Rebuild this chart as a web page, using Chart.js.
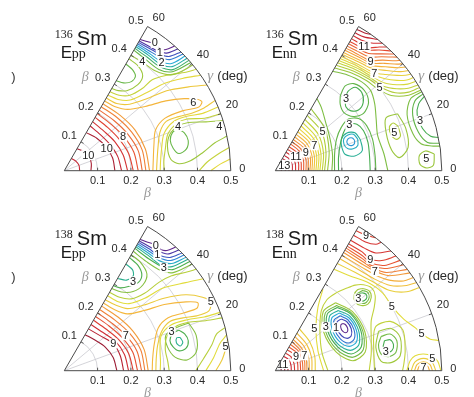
<!DOCTYPE html>
<html>
<head>
<meta charset="utf-8">
<script src="https://cdn.jsdelivr.net/npm/chart.js@4.4.1/dist/chart.umd.min.js"></script>
<style>
  html, body { margin: 0; padding: 0; background: #fff; }
  #wrap { position: relative; width: 474px; height: 397px; overflow: hidden; }
  #wrap canvas { position: absolute; }
</style>
</head>
<body>
<div id="wrap"></div>
<script>
// axis ticks and guide lines of the (beta, gamma) sector
const betaTicks = [0.1, 0.2, 0.3, 0.4, 0.5];
const gammaTicks = [0, 20, 40, 60];
const betaGrid = [0.1, 0.2, 0.3, 0.4];
const gammaGrid = [20, 40];

// contour lines: [energy (MeV), [beta, gamma(deg), beta, gamma, ...]]
const ppSm136Lines = [
  [0, [0.455,60, 0.462,57, 0.468,54.5, 0.465,52, 0.475,50, 0.5,48.5]],
  [0.5, [0.45,60, 0.452,56, 0.456,52, 0.468,49, 0.5,47]],
  [1, [0.445,60, 0.447,55.5, 0.452,51, 0.465,47.5, 0.5,45.5]],
  [1.5, [0.44,60, 0.441,55, 0.446,50, 0.46,46.5, 0.5,44.5]],
  [2, [0.435,60, 0.435,54, 0.438,48.5, 0.455,45, 0.5,43.5]],
  [2.5, [0.43,60, 0.429,54, 0.431,48, 0.45,44, 0.5,42.5]],
  [3, [0.424,60, 0.422,54, 0.424,47.5, 0.445,43, 0.5,41.5]],
  [3.5, [0.418,60, 0.414,54, 0.416,47, 0.44,42.5, 0.5,40.5]],
  [3.5, [0.37,60, 0.366,56, 0.355,53, 0.335,53, 0.318,56, 0.312,60]],
  [4, [0.40,60, 0.402,54.4, 0.405,48, 0.43,42, 0.47,40, 0.5,39.5]],
  [4, [0.388,60, 0.385,55, 0.37,50.5, 0.34,49.5, 0.305,52, 0.29,56, 0.285,60]],
  [4.5, [0.274,60, 0.28,54, 0.30,49, 0.34,46.5, 0.38,46, 0.42,43, 0.47,39, 0.5,37.5]],
  [5, [0.262,60, 0.268,53, 0.29,47, 0.34,43.5, 0.40,41, 0.45,38, 0.5,35]],
  [5.5, [0.252,60, 0.256,52, 0.28,45.5, 0.33,41, 0.39,38, 0.45,34, 0.5,31]],
  [6, [0.242,60, 0.245,52, 0.265,44, 0.31,38.5, 0.37,34.5, 0.42,31, 0.455,28, 0.462,26.5, 0.445,25.3, 0.40,26.8, 0.34,27.5, 0.30,24, 0.28,16, 0.27,8, 0.266,0]],
  [5.5, [0.5,25, 0.46,24.2, 0.42,24.3, 0.38,25.3, 0.34,25.8, 0.31,22, 0.29,14, 0.28,6, 0.277,0]],
  [5, [0.5,22.5, 0.45,22.5, 0.40,24, 0.36,24.2, 0.32,20.5, 0.30,13, 0.29,5, 0.288,0]],
  [4.5, [0.5,20, 0.45,20.5, 0.40,22.8, 0.367,22.8, 0.33,19.5, 0.31,12, 0.30,5, 0.30,0]],
  [4, [0.5,17.5, 0.45,19, 0.40,21.2, 0.367,21.4, 0.335,19, 0.318,13, 0.322,6, 0.345,3.5, 0.38,4.5, 0.42,7.5, 0.46,10.5, 0.5,12]],
  [3.5, [0.364,20, 0.378,17.5, 0.383,13.7, 0.372,10, 0.348,8.5, 0.334,11.5, 0.331,16, 0.345,19.5, 0.364,20]],
  [4.5, [0.405,0, 0.43,3.5, 0.47,6.5, 0.5,8]],
  [5, [0.44,0, 0.47,2.5, 0.5,4]],
  [6.5, [0.232,60, 0.236,45, 0.245,30, 0.252,15, 0.256,0]],
  [7, [0.222,60, 0.225,45, 0.233,30, 0.242,15, 0.245,0]],
  [7.5, [0.21,60, 0.212,45, 0.22,30, 0.23,15, 0.234,0]],
  [8, [0.198,60, 0.198,45, 0.206,30, 0.216,15, 0.222,0]],
  [8.5, [0.185,60, 0.184,45, 0.19,30, 0.2,15, 0.207,0]],
  [9, [0.17,60, 0.168,45, 0.175,30, 0.183,15, 0.19,0]],
  [9.5, [0.155,60, 0.153,45, 0.158,30, 0.166,15, 0.172,0]],
  [10, [0.132,60, 0.138,45, 0.144,30, 0.15,15, 0.152,0]],
  [10, [0.076,60, 0.082,45, 0.086,30, 0.084,15, 0.08,0]],
  [9.5, [0.042,60, 0.045,40, 0.047,20, 0.046,0]]
];
const ppSm136Labels = [
  ['0',0.47,54.7], ['1',0.456,51], ['2',0.436,48], ['4',0.402,54.4], ['6',0.439,28],
  ['4',0.367,21.4], ['4',0.484,16], ['8',0.204,30], ['10',0.144,28], ['10',0.086,33]
];

const nnSm136Lines = [
  [13.5, [0.018,0, 0.02,20, 0.021,40, 0.02,60]],
  [13, [0.03,0, 0.032,20, 0.033,40, 0.031,60]],
  [12.5, [0.041,0, 0.043,20, 0.044,40, 0.042,60]],
  [12, [0.051,0, 0.054,20, 0.055,40, 0.053,60]],
  [11.5, [0.061,0, 0.064,20, 0.066,40, 0.064,60]],
  [11, [0.07,0, 0.074,20, 0.076,40, 0.074,60]],
  [10.5, [0.078,0, 0.082,20, 0.085,40, 0.083,60]],
  [10, [0.085,0, 0.09,20, 0.093,40, 0.092,60]],
  [9.5, [0.092,0, 0.098,20, 0.101,40, 0.10,60]],
  [9, [0.098,0, 0.105,20, 0.109,40, 0.108,60]],
  [8.5, [0.104,0, 0.112,20, 0.117,40, 0.117,60]],
  [8, [0.11,0, 0.118,20, 0.125,40, 0.126,60]],
  [7.5, [0.116,0, 0.125,20, 0.133,40, 0.135,60]],
  [7, [0.122,0, 0.132,20, 0.141,40, 0.145,60]],
  [6.5, [0.128,0, 0.139,20, 0.15,40, 0.155,60]],
  [6, [0.134,0, 0.146,20, 0.159,40, 0.166,60]],
  [5.5, [0.141,0, 0.154,20, 0.169,40, 0.178,60]],
  [5, [0.148,0, 0.162,20, 0.182,40, 0.192,60]],
  [4.5, [0.157,0, 0.172,20, 0.195,40, 0.215,60]],
  [4, [0.17,0, 0.178,15, 0.19,30, 0.21,44, 0.235,54, 0.25,60]],
  [3.5, [0.178,0, 0.185,15.7, 0.207,27.3, 0.237,33.3, 0.269,35.2, 0.295,32.1, 0.306,26.1, 0.307,18, 0.303,8.5, 0.302,0]],
  [3, [0.19,0, 0.194,11.9, 0.211,22.3, 0.235,29.3, 0.262,32.2, 0.282,29.7, 0.291,24.4, 0.291,17, 0.286,8, 0.285,0]],
  [2.5, [0.272,20, 0.265,25.5, 0.243,27.8, 0.22,25.5, 0.212,20, 0.216,13, 0.243,10.5, 0.268,13, 0.272,20]],
  [2, [0.265,21, 0.259,25, 0.243,26.2, 0.227,25, 0.221,21, 0.227,17, 0.243,15.8, 0.259,17, 0.265,21]],
  [1.5, [0.255,21, 0.2515,23, 0.243,23.8, 0.2345,23, 0.231,21, 0.2345,19, 0.243,18.2, 0.2515,19, 0.255,21]],
  [3, [0.301,45.7, 0.323,47.5, 0.347,46.2, 0.35,42.1, 0.334,37.8, 0.309,36.1, 0.29,38.3, 0.286,42.2, 0.301,45.7]],
  [3.5, [0.298,49.1, 0.33,50.5, 0.352,48, 0.36,42, 0.347,36.2, 0.316,33, 0.286,34.7, 0.27,40.5, 0.279,45.7, 0.298,49.1]],
  [4, [0.345,60, 0.36,53, 0.372,46, 0.374,40, 0.36,34, 0.34,27, 0.325,19, 0.33,9, 0.338,0]],
  [4.5, [0.356,60, 0.372,52, 0.385,44.5, 0.394,38.5, 0.415,33, 0.46,29.5, 0.5,29]],
  [5, [0.366,60, 0.38,52, 0.394,44, 0.405,38, 0.43,33, 0.465,30.5, 0.5,30]],
  [5.5, [0.374,60, 0.387,52, 0.40,44, 0.412,38, 0.44,34, 0.47,31.8, 0.5,31]],
  [6, [0.382,60, 0.393,52, 0.405,44.5, 0.42,39, 0.447,35.3, 0.475,33.2, 0.5,32.5]],
  [6.5, [0.389,60, 0.399,52, 0.41,45, 0.43,40, 0.455,36.6, 0.48,34.6, 0.5,34]],
  [7, [0.396,60, 0.405,52, 0.417,45, 0.44,41, 0.465,38, 0.485,36.2, 0.5,35.5]],
  [7.5, [0.403,60, 0.411,53, 0.423,46.5, 0.45,42, 0.48,38.3, 0.5,37]],
  [8, [0.41,60, 0.417,53, 0.428,47.5, 0.455,43.3, 0.483,39.8, 0.5,38.5]],
  [8.5, [0.418,60, 0.423,54, 0.432,48.5, 0.46,44.5, 0.486,41.2, 0.5,40]],
  [9, [0.425,60, 0.429,54, 0.436,49.5, 0.463,45.8, 0.488,42.6, 0.5,41.5]],
  [9.5, [0.432,60, 0.436,55, 0.443,50.5, 0.468,47, 0.5,43]],
  [10, [0.44,60, 0.443,55.5, 0.45,51.5, 0.472,48, 0.5,44.5]],
  [10.5, [0.448,60, 0.45,56, 0.457,52.5, 0.478,49.3, 0.5,46]],
  [11, [0.458,60, 0.459,55, 0.465,52.5, 0.485,50, 0.5,48]],
  [11.5, [0.468,60, 0.47,56.5, 0.48,53, 0.5,50]],
  [12, [0.478,60, 0.482,56.5, 0.5,52]],
  [12.5, [0.49,60, 0.493,57, 0.5,55]],
  [3, [0.5,26.5, 0.475,25, 0.458,21.5, 0.46,16, 0.478,12.5, 0.5,11.5]],
  [3.5, [0.5,27.5, 0.468,26.5, 0.445,22, 0.445,15, 0.465,10.5, 0.5,9.5]],
  [4, [0.5,28.3, 0.46,28, 0.43,23, 0.428,15, 0.445,10.5, 0.475,9, 0.5,8.5]],
  [4.5, [0.405,25, 0.412,18, 0.405,10, 0.375,6, 0.355,10, 0.352,19, 0.368,25.5, 0.405,25]],
  [5, [0.392,20, 0.39,15.5, 0.376,14.5, 0.364,17, 0.367,21, 0.382,22, 0.392,20]],
  [4.5, [0.48,6, 0.475,2, 0.455,1, 0.435,2.5, 0.435,6, 0.455,7.5, 0.48,6]],
  [5, [0.465,4.5, 0.46,3, 0.45,3, 0.446,4.8, 0.456,5.8, 0.465,4.5]]
];
const nnSm136Labels = [
  ['11',0.459,54.5], ['9',0.436,49], ['7',0.417,44.5], ['5',0.40,38.5], ['3',0.303,45.5],
  ['3',0.262,32], ['5',0.184,39.5], ['7',0.14,33], ['9',0.107,31], ['11',0.075,34],
  ['13',0.032,32], ['5',0.376,18], ['3',0.46,19], ['5',0.455,4.5]
];

const ppSm138Lines = [
  [0, [0.455,60, 0.46,57, 0.467,54, 0.465,51.5, 0.475,49.5, 0.5,48]],
  [0.5, [0.45,60, 0.452,55.5, 0.456,52, 0.468,48.5, 0.5,46.5]],
  [1, [0.445,60, 0.446,55, 0.447,51.3, 0.465,47, 0.5,45]],
  [1.5, [0.44,60, 0.44,54.5, 0.443,50, 0.46,46, 0.5,44]],
  [2, [0.435,60, 0.434,54, 0.437,49, 0.455,45, 0.5,43]],
  [2.5, [0.43,60, 0.428,53.5, 0.43,47.5, 0.45,44, 0.5,42]],
  [3, [0.424,60, 0.421,53, 0.43,46, 0.445,43, 0.5,41]],
  [3.5, [0.414,60, 0.41,53, 0.418,46, 0.44,42, 0.5,39.8]],
  [2.5, [0.37,60, 0.366,56, 0.352,54, 0.33,55.5, 0.32,60]],
  [3, [0.392,60, 0.386,55, 0.37,51, 0.345,50, 0.32,52.4, 0.30,56, 0.295,60]],
  [3.5, [0.402,60, 0.398,55, 0.382,49.5, 0.35,47.5, 0.315,49, 0.292,54, 0.285,60]],
  [4, [0.272,60, 0.276,53, 0.295,47, 0.335,44, 0.39,43, 0.43,41.5, 0.47,39, 0.5,37.5]],
  [4.5, [0.26,60, 0.263,52, 0.28,46, 0.325,42, 0.385,40, 0.45,36, 0.5,33.5]],
  [5, [0.246,60, 0.25,52, 0.266,44.5, 0.31,39.5, 0.37,36, 0.43,32, 0.47,28, 0.486,25.2, 0.47,22.5, 0.43,22.5, 0.39,24, 0.35,25, 0.315,22, 0.29,15, 0.278,7, 0.275,0]],
  [5.5, [0.235,60, 0.238,50, 0.255,42, 0.30,37, 0.36,33.5, 0.42,29.5, 0.45,27, 0.44,25.2, 0.40,25.8, 0.35,27, 0.31,24.5, 0.283,17, 0.268,8, 0.264,0]],
  [4.5, [0.5,20.5, 0.45,21, 0.40,22.5, 0.35,23.2, 0.31,20, 0.295,13, 0.29,5, 0.288,0]],
  [4, [0.5,18.5, 0.45,19.5, 0.40,21.3, 0.36,21.6, 0.325,18.5, 0.31,12, 0.312,5, 0.315,0]],
  [3.5, [0.40,21, 0.41,15, 0.40,8, 0.37,5, 0.335,7, 0.318,13, 0.322,19, 0.35,20.8, 0.40,21]],
  [3, [0.365,19.5, 0.378,17, 0.383,13.6, 0.372,10.5, 0.35,9.8, 0.334,12.5, 0.33,16, 0.345,19, 0.365,19.5]],
  [2.5, [0.362,16, 0.366,13.5, 0.356,12, 0.347,14, 0.352,16.3, 0.362,16]],
  [4, [0.395,0, 0.42,5, 0.45,10, 0.47,13.5, 0.5,15]],
  [4.5, [0.425,0, 0.45,5, 0.475,10, 0.5,12.5]],
  [5, [0.455,0, 0.475,4, 0.49,8, 0.5,11]],
  [6, [0.252,0, 0.248,15, 0.238,30, 0.228,45, 0.224,60]],
  [6.5, [0.242,0, 0.238,15, 0.226,30, 0.215,45, 0.212,60]],
  [7, [0.232,0, 0.226,15, 0.213,30, 0.202,45, 0.2,60]],
  [7.5, [0.22,0, 0.213,15, 0.2,30, 0.19,45, 0.188,60]],
  [8, [0.207,0, 0.2,15, 0.188,30, 0.177,45, 0.175,60]],
  [8.5, [0.193,0, 0.187,15, 0.177,30, 0.163,45, 0.16,60]],
  [9, [0.178,0, 0.174,15, 0.168,29, 0.15,45, 0.145,60]],
  [9.5, [0.158,0, 0.152,15, 0.142,30, 0.13,45, 0.125,60]]
];
const ppSm138Labels = [
  ['0',0.467,53.9], ['1',0.447,51.3], ['3',0.43,46], ['3',0.339,52.4], ['5',0.486,25.2],
  ['3',0.343,20], ['7',0.213,30], ['9',0.168,29], ['5',0.49,8.5]
];

const nnSm138Lines = [
  [11.5, [0.018,0, 0.018,20, 0.018,40, 0.018,60]],
  [11, [0.028,0, 0.03,20, 0.03,40, 0.028,60]],
  [10.5, [0.038,0, 0.04,20, 0.041,40, 0.039,60]],
  [10, [0.048,0, 0.05,20, 0.052,40, 0.05,60]],
  [9.5, [0.058,0, 0.06,20, 0.063,40, 0.061,60]],
  [9, [0.068,0, 0.071,20, 0.075,40, 0.072,60]],
  [8.5, [0.076,0, 0.079,20, 0.084,40, 0.082,60]],
  [8, [0.083,0, 0.086,20, 0.091,40, 0.091,60]],
  [7.5, [0.089,0, 0.093,20, 0.097,40, 0.10,60]],
  [7, [0.095,0, 0.099,20, 0.104,40, 0.108,60]],
  [6.5, [0.102,0, 0.107,20, 0.113,40, 0.118,60]],
  [6, [0.11,0, 0.116,20, 0.123,40, 0.13,60]],
  [5.5, [0.12,0, 0.126,20, 0.135,40, 0.145,60]],
  [9, [0.485,60, 0.49,56.2, 0.5,53]],
  [9.5, [0.47,60, 0.472,55, 0.485,51.5, 0.5,50.5]],
  [9.5, [0.452,60, 0.455,54, 0.465,49.5, 0.5,46]],
  [9, [0.44,60, 0.442,54, 0.44,49.6, 0.46,46, 0.5,43.5]],
  [8.5, [0.432,60, 0.433,53, 0.433,48.5, 0.455,44, 0.5,41.5]],
  [8, [0.425,60, 0.426,52, 0.428,47.5, 0.45,43, 0.5,39.5]],
  [7.5, [0.418,60, 0.42,51, 0.425,46.5, 0.445,41.5, 0.5,37.5]],
  [7, [0.41,60, 0.413,50.5, 0.423,45, 0.444,40, 0.5,36]],
  [6.5, [0.40,60, 0.405,50, 0.415,44, 0.437,38.5, 0.47,35, 0.5,34]],
  [6, [0.388,60, 0.394,50, 0.405,43, 0.43,36.5, 0.47,33, 0.5,32]],
  [5.5, [0.372,60, 0.38,51, 0.395,43, 0.42,35, 0.46,31, 0.5,30]],
  [5, [0.352,60, 0.362,52, 0.383,44, 0.398,36, 0.40,29, 0.415,22, 0.44,17, 0.453,14.3, 0.475,11.5, 0.5,10.5]]
];
// closed loops around the wells: [energy, [x, y, x, y, ...]] with x = beta cos(gamma), y = beta sin(gamma)
const nnSm138Loops = [
  [0.5, [0.203,0.142, 0.211,0.138, 0.217,0.128, 0.217,0.118, 0.211,0.114, 0.203,0.118, 0.197,0.128, 0.197,0.138, 0.203,0.142]],
  [1, [0.198,0.155, 0.215,0.147, 0.228,0.126, 0.228,0.105, 0.216,0.097, 0.199,0.105, 0.186,0.126, 0.186,0.147, 0.198,0.155]],
  [1.5, [0.195,0.165, 0.218,0.153, 0.236,0.124, 0.237,0.095, 0.219,0.083, 0.196,0.095, 0.178,0.124, 0.177,0.153, 0.195,0.165]],
  [2, [0.192,0.173, 0.221,0.159, 0.243,0.123, 0.244,0.087, 0.222,0.073, 0.193,0.087, 0.171,0.123, 0.17,0.159, 0.192,0.173]],
  [2.5, [0.189,0.181, 0.224,0.164, 0.25,0.121, 0.251,0.078, 0.225,0.061, 0.19,0.078, 0.164,0.121, 0.163,0.164, 0.189,0.181]],
  [3, [0.186,0.19, 0.227,0.17, 0.257,0.12, 0.258,0.071, 0.228,0.05, 0.188,0.071, 0.157,0.12, 0.156,0.17, 0.186,0.19]],
  [3.5, [0.184,0.196, 0.229,0.173, 0.263,0.118, 0.264,0.063, 0.231,0.04, 0.185,0.063, 0.151,0.118, 0.15,0.173, 0.184,0.196]],
  [4, [0.181,0.204, 0.231,0.178, 0.269,0.117, 0.27,0.056, 0.233,0.03, 0.183,0.056, 0.145,0.117, 0.144,0.178, 0.181,0.204]],
  [3, [0.262,0.234, 0.272,0.23, 0.275,0.22, 0.268,0.211, 0.256,0.209, 0.25,0.217, 0.252,0.23, 0.262,0.234]],
  [3.5, [0.262,0.241, 0.277,0.236, 0.282,0.22, 0.273,0.205, 0.258,0.202, 0.245,0.21, 0.243,0.228, 0.262,0.241]],
  [4, [0.262,0.247, 0.282,0.24, 0.288,0.22, 0.278,0.2, 0.258,0.196, 0.24,0.206, 0.237,0.228, 0.247,0.243, 0.262,0.247]],
  [4.5, [0.158,0, 0.14,0.055, 0.134,0.118, 0.138,0.18, 0.155,0.213, 0.18,0.232, 0.215,0.248, 0.24,0.257, 0.265,0.258, 0.29,0.248, 0.3,0.225, 0.297,0.19, 0.288,0.15, 0.288,0.1, 0.288,0.05, 0.282,0]],
  [5, [0.145,0, 0.128,0.06, 0.122,0.127, 0.128,0.19, 0.143,0.245]],
  [3, [0.328,0.09, 0.345,0.093, 0.355,0.078, 0.35,0.06, 0.333,0.055, 0.324,0.07, 0.328,0.09]],
  [3.5, [0.318,0.103, 0.345,0.11, 0.365,0.09, 0.362,0.055, 0.34,0.042, 0.318,0.05, 0.31,0.078, 0.318,0.103]],
  [4, [0.31,0.118, 0.348,0.127, 0.375,0.1, 0.375,0.045, 0.35,0.025, 0.318,0.028, 0.302,0.07, 0.31,0.118]],
  [4.5, [0.298,0, 0.296,0.05, 0.30,0.13, 0.345,0.148, 0.383,0.122, 0.39,0.06, 0.386,0.02, 0.382,0]],
  [7, [0.435,0, 0.438,0.007, 0.445,0.01, 0.452,0.007, 0.455,0]],
  [6.5, [0.427,0, 0.432,0.013, 0.445,0.018, 0.458,0.013, 0.463,0]],
  [6, [0.418,0, 0.426,0.019, 0.445,0.027, 0.464,0.019, 0.472,0]],
  [5.5, [0.408,0, 0.419,0.026, 0.445,0.037, 0.471,0.026, 0.482,0]],
  [5, [0.395,0, 0.405,0.03, 0.42,0.045, 0.445,0.05, 0.47,0.044, 0.488,0.028, 0.497,0]]
];
const nnSm138Labels = [
  ['9',0.49,56.2], ['9',0.44,49.6], ['7',0.423,45], ['3',0.33,41], ['5',0.40,29],
  ['5',0.453,14.3], ['5',0.173,47.3], ['3',0.201,41], ['1',0.224,35.5], ['3',0.337,9.7],
  ['7',0.445,1.2], ['5',0.473,4.5], ['9',0.075,34], ['7',0.099,28], ['11',0.03,42]
];

// energy -> position on the colour ramp, one table per panel
const ppTone136 = [[0, 0], [10.6, 1]];
const nnTone136 = [[1, 0.12], [1.5, 0.17], [2, 0.21], [2.5, 0.25], [3, 0.30], [5, 0.40], [7, 0.49], [9, 0.64], [11, 0.82], [13.5, 1]];
const ppTone138 = [[0, 0], [9.8, 1]];
const nnTone138 = [[0.5, 0], [1, 0.08], [3, 0.30], [5, 0.46], [7, 0.62], [9, 0.8], [11.5, 1]];

const ramp = [
  [0.00, [96, 40, 140]],
  [0.06, [72, 56, 170]],
  [0.12, [52, 100, 205]],
  [0.19, [40, 170, 215]],
  [0.25, [40, 175, 150]],
  [0.30, [70, 172, 80]],
  [0.38, [160, 200, 60]],
  [0.46, [226, 220, 60]],
  [0.56, [244, 184, 60]],
  [0.66, [240, 130, 56]],
  [0.78, [228, 72, 50]],
  [0.88, [204, 40, 52]],
  [1.00, [140, 24, 52]]
];

const deg = Math.PI / 180;
const PX = 333;            // pixels per unit of beta
const OX = 64.3, OY = 170.7; // origin of the sector inside each canvas

const panels = [
  { left: 0,   top: 0,   w: 263, h: 200, mass: '136', sub: 'pp', lines: ppSm136Lines, loops: [], labels: ppSm136Labels, tone: ppTone136, paren: true },
  { left: 211, top: 0,   w: 263, h: 200, mass: '136', sub: 'nn', lines: nnSm136Lines, loops: [], labels: nnSm136Labels, tone: nnTone136 },
  { left: 0,   top: 200, w: 263, h: 197, mass: '138', sub: 'pp', lines: ppSm138Lines, loops: [], labels: ppSm138Labels, tone: ppTone138, paren: true },
  { left: 211, top: 200, w: 263, h: 197, mass: '138', sub: 'nn', lines: nnSm138Lines, loops: nnSm138Loops, labels: nnSm138Labels, tone: nnTone138 }
];

function toXY(flat, polar) {
  const pts = [];
  for (let i = 0; i < flat.length; i += 2) {
    if (polar) {
      const b = flat[i], g = flat[i + 1] * deg;
      pts.push({ x: b * Math.cos(g), y: b * Math.sin(g) });
    } else {
      pts.push({ x: flat[i], y: flat[i + 1] });
    }
  }
  return pts;
}

function toneAt(v, tone) {
  if (v <= tone[0][0]) return tone[0][1];
  for (let i = 1; i < tone.length; i++) {
    if (v <= tone[i][0]) {
      const [v0, t0] = tone[i - 1], [v1, t1] = tone[i];
      return t0 + (t1 - t0) * (v - v0) / (v1 - v0);
    }
  }
  return tone[tone.length - 1][1];
}

function rampColor(t) {
  t = Math.max(0, Math.min(1, t));
  for (let i = 1; i < ramp.length; i++) {
    if (t <= ramp[i][0]) {
      const [t0, c0] = ramp[i - 1], [t1, c1] = ramp[i];
      const f = (t - t0) / (t1 - t0);
      return 'rgb(' + c0.map((c, j) => Math.round(c + (c1[j] - c) * f)).join(',') + ')';
    }
  }
  return 'rgb(' + ramp[ramp.length - 1][1].join(',') + ')';
}

const SANS = '"Liberation Sans", Arial, sans-serif';
const SERIF = '"Liberation Serif", "Times New Roman", serif';

function frameFor(p) {
  const geom = chart => {
    const ox = chart.scales.x.getPixelForValue(0);
    const oy = chart.scales.y.getPixelForValue(0);
    const k = chart.scales.x.getPixelForValue(1) - ox;
    const at = (b, g) => [ox + b * k * Math.cos(g * deg), oy - b * k * Math.sin(g * deg)];
    return { ox, oy, k, at };
  };
  return {
    id: 'sectorFrame',
    beforeDatasetsDraw(chart) {
      const { ctx } = chart;
      const { ox, oy, k, at } = geom(chart);
      ctx.save();
      ctx.strokeStyle = '#c9c9cf';
      ctx.lineWidth = 0.8;
      betaGrid.forEach(b => {
        ctx.beginPath();
        ctx.arc(ox, oy, b * k, -60 * deg, 0);
        ctx.stroke();
      });
      gammaGrid.forEach(g => {
        const [x, y] = at(0.5, g);
        ctx.beginPath();
        ctx.moveTo(ox, oy);
        ctx.lineTo(x, y);
        ctx.stroke();
      });
      ctx.restore();
    },
    afterDatasetsDraw(chart) {
      const { ctx } = chart;
      const { ox, oy, k, at } = geom(chart);
      const R = 0.5 * k;
      ctx.save();

      // contour values, with a white gap behind each number
      ctx.font = '11px ' + SANS;
      ctx.textAlign = 'center';
      ctx.textBaseline = 'middle';
      p.labels.forEach(([txt, b, g]) => {
        const [x, y] = at(b, g);
        const w = ctx.measureText(txt).width;
        ctx.fillStyle = '#fff';
        ctx.fillRect(x - w / 2 - 1, y - 5, w + 2, 10);
        ctx.fillStyle = '#222';
        ctx.fillText(txt, x, y + 0.5);
      });

      // sector outline
      ctx.strokeStyle = '#4a4a4a';
      ctx.lineWidth = 1;
      ctx.beginPath();
      ctx.moveTo(ox, oy);
      ctx.lineTo(ox + R, oy);
      ctx.arc(ox, oy, R, 0, -60 * deg, true);
      ctx.closePath();
      ctx.stroke();

      // tick marks
      ctx.lineWidth = 0.9;
      betaTicks.slice(0, -1).forEach(b => {
        ctx.beginPath();
        ctx.moveTo(ox + b * k, oy);
        ctx.lineTo(ox + b * k, oy - 3);
        const [x, y] = at(b, 60);
        ctx.moveTo(x, y);
        ctx.lineTo(x + 3 * Math.sin(60 * deg), y + 3 * Math.cos(60 * deg));
        ctx.stroke();
      });
      gammaGrid.forEach(g => {
        const [x1, y1] = at(0.5, g);
        const [x2, y2] = at(0.5 - 3 / k, g);
        ctx.beginPath();
        ctx.moveTo(x1, y1);
        ctx.lineTo(x2, y2);
        ctx.stroke();
      });

      // beta tick labels along the bottom and the 60 degree edge
      ctx.fillStyle = '#2a2a2a';
      ctx.font = '11px ' + SANS;
      ctx.textBaseline = 'middle';
      betaTicks.forEach(b => {
        ctx.textAlign = 'center';
        ctx.fillText(b.toFixed(1), ox + b * k, oy + 10);
        const [x, y] = at(b, 60);
        ctx.textAlign = 'right';
        ctx.fillText(b.toFixed(1), x - 4, y - 6);
      });

      // gamma tick labels on the arc
      ctx.textAlign = 'left';
      gammaTicks.forEach(g => {
        const [x, y] = at(0.5, g);
        if (g === 0) ctx.fillText(String(g), x + 8.5, y - 1.5);
        else ctx.fillText(String(g), x + 5, y - 9);
      });

      // axis names
      ctx.fillStyle = '#9a9a9a';
      ctx.font = 'italic 14px ' + SERIF;
      ctx.textAlign = 'center';
      const [bx, by] = at(0.3, 60);
      ctx.fillText('\u03b2', bx - 29, by - 7);
      ctx.fillText('\u03b2', ox + 0.25 * k, oy + 23);
      ctx.font = 'italic 15px ' + SERIF;
      ctx.fillText('\u03b3', ox + 146, oy - 95);
      ctx.fillStyle = '#2a2a2a';
      ctx.font = '13px ' + SANS;
      ctx.textAlign = 'left';
      ctx.fillText('(deg)', ox + 153, oy - 94);

      // nucleus and energy name
      ctx.textBaseline = 'alphabetic';
      ctx.fillStyle = '#1a1a1a';
      ctx.font = '12px ' + SERIF;
      ctx.fillText(p.mass, ox - 9.5, oy - 133);
      ctx.font = '20px ' + SANS;
      ctx.fillText('Sm', ox + 12.5, oy - 126);
      ctx.font = '17px ' + SANS;
      ctx.fillText('E', ox - 3.5, oy - 113);
      ctx.font = '14px ' + SERIF;
      ctx.fillText(p.sub, ox + 7.5, oy - 113);

      if (p.paren) {
        ctx.font = '13px ' + SANS;
        ctx.fillStyle = '#333';
        ctx.fillText(')', ox - 53, oy - 90);
      }
      ctx.restore();
    }
  };
}

const wrap = document.getElementById('wrap');
panels.forEach(p => {
  const canvas = document.createElement('canvas');
  canvas.width = p.w;
  canvas.height = p.h;
  canvas.style.left = p.left + 'px';
  canvas.style.top = p.top + 'px';
  canvas.style.width = p.w + 'px';
  canvas.style.height = p.h + 'px';
  wrap.appendChild(canvas);

  const datasets = [];
  const add = (v, pts) => datasets.push({
    data: pts,
    showLine: true,
    borderColor: rampColor(toneAt(v, p.tone)),
    borderWidth: 1.1,
    pointRadius: 0,
    tension: 0.3,
    fill: false
  });
  p.lines.forEach(([v, flat]) => add(v, toXY(flat, true)));
  p.loops.forEach(([v, flat]) => add(v, toXY(flat, false)));

  new Chart(canvas, {
    type: 'scatter',
    data: { datasets },
    options: {
      responsive: false,
      animation: false,
      events: [],
      layout: { padding: 0 },
      scales: {
        x: { type: 'linear', display: false, min: -OX / PX, max: (p.w - OX) / PX },
        y: { type: 'linear', display: false, min: -(p.h - OY) / PX, max: OY / PX }
      },
      plugins: { legend: { display: false }, tooltip: { enabled: false }, title: { display: false } }
    },
    plugins: [frameFor(p)]
  });
});
</script>
</body>
</html>
